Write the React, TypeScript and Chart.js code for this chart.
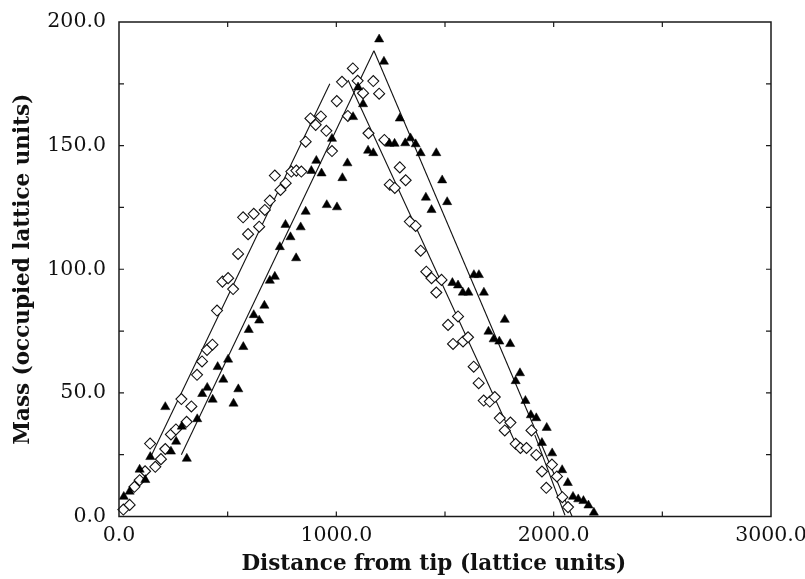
import React, { useEffect, useRef } from 'react';
import { Chart, registerables } from 'chart.js';

Chart.register(...registerables);

// Open diamonds
const DIAMOND_X = [20, 49, 71, 95, 120, 143, 167, 193, 213, 239, 262, 287, 311, 333, 359, 382, 405, 430, 451, 476, 502, 525, 548, 571, 594, 620, 645, 671, 694, 717, 743, 767, 793, 816, 839, 859, 881, 905, 929, 954, 980, 1002, 1026, 1053, 1076, 1098, 1123, 1148, 1170, 1197, 1221, 1246, 1269, 1292, 1319, 1338, 1365, 1388, 1414, 1438, 1460, 1484, 1514, 1537, 1560, 1583, 1606, 1632, 1655, 1678, 1706, 1729, 1752, 1775, 1801, 1825, 1847, 1875, 1898, 1920, 1946, 1966, 1992, 2015, 2040, 2066];
const DIAMOND_Y = [2.8, 4.7, 12, 14.7, 18.3, 29.5, 20.1, 23.2, 27.3, 33.2, 35.2, 47.5, 38.3, 44.5, 57.3, 62.7, 67.4, 69.5, 83.3, 95, 96.4, 92, 106.2, 121, 114.2, 122.4, 117.2, 124, 127.8, 137.9, 132.1, 134.8, 139.5, 139.9, 139.5, 151.6, 161, 158.4, 161.8, 156, 147.8, 168, 175.8, 162, 181.2, 176.2, 171.2, 155, 176.1, 171, 152.3, 134.2, 132.9, 141.2, 136, 119.3, 117.5, 107.5, 99, 96.4, 90.6, 95.7, 77.5, 69.8, 80.9, 70.8, 72.5, 60.6, 53.9, 46.9, 46.5, 48.3, 39.8, 34.8, 38, 29.4, 27.7, 27.7, 34.8, 24.9, 18.2, 11.6, 21, 16.2, 7.8, 3.8];

// Filled triangles
const TRIANGLE_X = [22, 49, 95, 121, 144, 213, 239, 263, 289, 312, 360, 383, 406, 431, 454, 480, 502, 527, 549, 572, 597, 620, 645, 669, 694, 717, 740, 766, 789, 815, 836, 859, 885, 908, 932, 956, 980, 1003, 1028, 1051, 1077, 1100, 1123, 1146, 1170, 1197, 1219, 1244, 1268, 1292, 1317, 1341, 1365, 1388, 1412, 1438, 1460, 1487, 1510, 1534, 1560, 1582, 1608, 1633, 1656, 1679, 1700, 1724, 1750, 1775, 1800, 1825, 1845, 1870, 1895, 1920, 1946, 1968, 1993, 2039, 2065, 2089, 2113, 2137, 2160, 2185];
const TRIANGLE_Y = [8, 10.1, 19, 14.8, 24.1, 44.3, 26.3, 30.3, 36.4, 23.4, 39.4, 49.6, 52.1, 47.3, 60.5, 55.4, 63.5, 45.7, 51.5, 68.6, 75.5, 81.5, 79.3, 85.3, 95.4, 97, 109, 118, 113, 104.5, 117, 123.3, 139.8, 143.9, 138.8, 126, 152.8, 125.1, 136.9, 142.9, 161.6, 173.6, 166.8, 148, 147, 193, 184, 150.8, 150.8, 161, 151, 153, 150.6, 147, 129, 124, 147, 136, 127.2, 94.5, 93.5, 90.6, 90.6, 97.7, 97.7, 90.6, 74.8, 71.7, 70.8, 79.6, 69.8, 54.8, 58, 46.8, 41, 39.8, 29.8, 35.9, 25.6, 18.8, 13.6, 8, 7, 6.3, 4.5, 1.6];

// Fitted straight lines (end points)
const DIAMOND_RISE_X = [145, 970];
const DIAMOND_RISE_Y = [24, 175];
const DIAMOND_FALL_X = [1054, 1833];
const DIAMOND_FALL_Y = [176.5, 28];
const DIAMOND_TAIL_X = [1913, 2052];
const DIAMOND_TAIL_Y = [33, 0.5];
const TRIANGLE_RISE_X = [287, 1173];
const TRIANGLE_RISE_Y = [25, 188.4];
const TRIANGLE_FALL_X = [1173, 2085];
const TRIANGLE_FALL_Y = [188.4, 0];

// Axis ticks
const X_LABEL_TICKS = [0, 1000, 2000, 3000];
const X_MARK_TICKS = [500, 1000, 1500, 2000, 2500];
const Y_MARK_TICKS = [25, 50, 75, 100, 125, 150, 175];

const X_TITLE = 'Distance from tip (lattice units)\u00A0\u00A0\u00A0';
const Y_TITLE = 'Mass (occupied lattice units)';

const pts = (xs: number[], ys: number[]) => xs.map((x, i) => ({ x, y: ys[i] }));

const TICK_FONT = { family: '"DejaVu Serif", serif', size: 20.5 };
const TITLE_FONT = { family: '"DejaVu Serif", serif', size: 21.5, weight: 'bold' as const };

const framePlugin = {
  id: 'frameTicks',
  afterDatasetsDraw(chart: any) {
    const { ctx, chartArea, scales } = chart;
    const { left, right, top, bottom } = chartArea;
    const xs = scales.x;
    const ys = scales.y;
    ctx.save();
    ctx.strokeStyle = '#1a1a1a';
    ctx.lineWidth = 1.5;
    ctx.strokeRect(left, top, right - left, bottom - top);
    ctx.lineWidth = 1.2;
    ctx.beginPath();
    const len = 5;
    X_MARK_TICKS.forEach((v) => {
      const p = xs.getPixelForValue(v);
      ctx.moveTo(p, bottom);
      ctx.lineTo(p, bottom - len);
      ctx.moveTo(p, top);
      ctx.lineTo(p, top + len);
    });
    Y_MARK_TICKS.forEach((v) => {
      const p = ys.getPixelForValue(v);
      ctx.moveTo(left, p);
      ctx.lineTo(left + len, p);
      ctx.moveTo(right, p);
      ctx.lineTo(right - len, p);
    });
    ctx.stroke();
    ctx.restore();
  },
};

const lineDs = (xs: number[], ys: number[]) => ({
  type: 'line' as const,
  data: pts(xs, ys),
  borderColor: '#111',
  borderWidth: 1.1,
  pointRadius: 0,
  showLine: true,
  fill: false,
  clip: false as const,
  order: 2,
});

export default function App() {
  const ref = useRef<HTMLCanvasElement>(null);

  useEffect(() => {
    if (!ref.current) return;
    const chart = new Chart(ref.current, {
      type: 'scatter',
      data: {
        datasets: [
          lineDs(DIAMOND_RISE_X, DIAMOND_RISE_Y),
          lineDs(DIAMOND_FALL_X, DIAMOND_FALL_Y),
          lineDs(DIAMOND_TAIL_X, DIAMOND_TAIL_Y),
          lineDs(TRIANGLE_RISE_X, TRIANGLE_RISE_Y),
          lineDs(TRIANGLE_FALL_X, TRIANGLE_FALL_Y),
          {
            label: 'diamonds',
            data: pts(DIAMOND_X, DIAMOND_Y),
            pointStyle: 'rectRot',
            pointRadius: 5.5,
            pointBorderWidth: 1.1,
            pointBorderColor: '#111',
            pointBackgroundColor: '#fff',
            clip: false,
            order: 1,
          },
          {
            label: 'triangles',
            data: pts(TRIANGLE_X, TRIANGLE_Y),
            pointStyle: 'triangle',
            pointRadius: 5.3,
            pointBorderWidth: 0.5,
            pointBorderColor: '#000',
            pointBackgroundColor: '#000',
            clip: false,
            order: 0,
          },
        ] as any,
      },
      options: {
        animation: false,
        responsive: false,
        devicePixelRatio: 1,
        layout: { padding: { left: 0, right: 34, top: 22, bottom: 0 } },
        plugins: {
          legend: { display: false },
          tooltip: { enabled: false },
        },
        scales: {
          x: {
            type: 'linear',
            min: 0,
            max: 3000,
            afterBuildTicks: (s: any) => {
              s.ticks = X_LABEL_TICKS.map((v) => ({ value: v }));
            },
            ticks: {
              callback: (v: any) => Number(v).toFixed(1),
              font: TICK_FONT,
              color: '#111',
              padding: 7,
              maxRotation: 0,
              autoSkip: false,
            },
            grid: { display: false, drawTicks: false },
            border: { display: false },
            title: {
              display: true,
              text: X_TITLE,
              font: TITLE_FONT,
              color: '#111',
              padding: { top: 0, bottom: 2 },
            },
            afterFit: (s: any) => {
              s.height = 62.5;
              s.paddingLeft = 0;
              s.paddingRight = 0;
            },
          },
          y: {
            type: 'linear',
            min: 0,
            max: 200,
            ticks: {
              stepSize: 50,
              callback: (v: any) => Number(v).toFixed(1),
              font: TICK_FONT,
              color: '#111',
              padding: 13,
            },
            grid: { display: false, drawTicks: false },
            border: { display: false },
            title: {
              display: true,
              text: Y_TITLE,
              font: TITLE_FONT,
              color: '#111',
              padding: { top: 11, bottom: 0 },
            },
            afterFit: (s: any) => {
              s.width = 119;
              s.paddingTop = 0;
              s.paddingBottom = 0;
            },
          },
        },
      } as any,
      plugins: [framePlugin],
    });
    return () => chart.destroy();
  }, []);

  return (
    <div style={{ position: 'absolute', left: 0, top: 0, width: 805, height: 579, background: '#fff' }}>
      <canvas ref={ref} width={805} height={579} style={{ display: 'block' }} />
    </div>
  );
}
